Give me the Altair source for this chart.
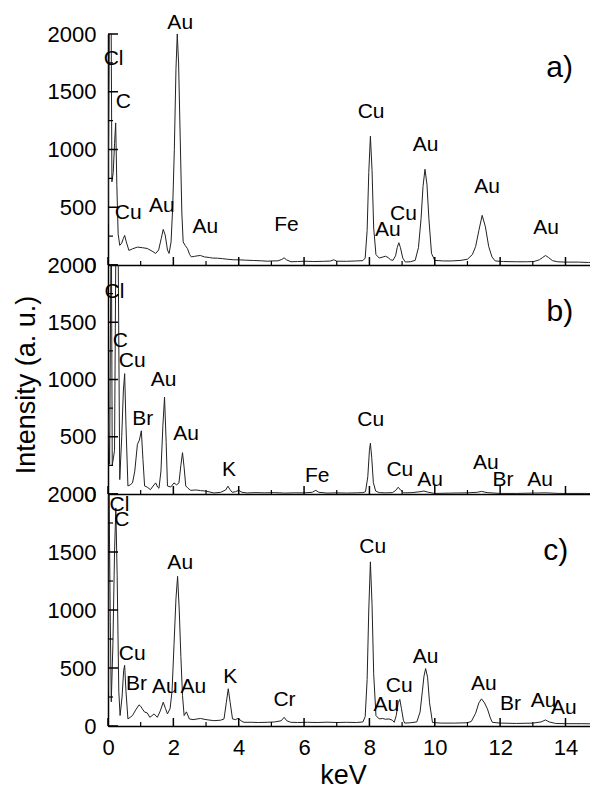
import altair as alt
import pandas as pd

FONT = "Liberation Sans"

# ---------------- spectra (keV, counts) ----------------
a_kev = [0.0, 0.05, 0.09, 0.12, 0.16, 0.2, 0.235, 0.27, 0.31, 0.36, 0.42, 0.47, 0.51, 0.56, 0.64,
         0.75, 0.9, 1.05, 1.2, 1.35, 1.46, 1.55, 1.63, 1.69, 1.75, 1.82, 1.87, 1.93, 1.98, 2.03,
         2.08, 2.12, 2.16, 2.21, 2.26, 2.3, 2.36, 2.43, 2.5, 2.55, 2.65, 2.75, 2.83, 2.95, 3.1,
         3.2, 3.35, 3.5, 3.65, 3.85, 4.0, 4.2, 4.46, 4.7, 4.87, 5.0, 5.2, 5.32, 5.39, 5.46, 5.6,
         5.8, 6.0, 6.3, 6.6, 6.8, 6.91, 7.0, 7.3, 7.6, 7.8, 7.87, 7.93, 7.98, 8.03, 8.08, 8.13,
         8.2, 8.3, 8.42, 8.49, 8.57, 8.65, 8.72, 8.8, 8.85, 8.9, 8.95, 9.02, 9.1, 9.25, 9.4, 9.5,
         9.58, 9.64, 9.7, 9.76, 9.82, 9.9, 10.0, 10.27, 10.5, 10.8, 11.0, 11.15, 11.25, 11.35,
         11.45, 11.55, 11.65, 11.75, 11.85, 12.1, 12.5, 12.8, 13.03, 13.2, 13.3, 13.39, 13.48,
         13.6, 13.75, 14.0, 14.4, 14.7, 15.0]
a_cnt = [350, 2500, 2500, 720, 800, 1050, 1230, 700, 270, 170, 190, 230, 256, 200, 126,
         140, 155, 150, 143, 120, 100, 130, 230, 308, 260, 130, 100, 200, 500, 1000,
         1700, 2000, 1750, 1100, 450, 200, 170, 143, 90, 70, 75, 80, 82, 70, 65,
         60, 59, 55, 50, 45, 45, 42, 39, 36, 33, 35, 36, 48, 62, 45, 28,
         30, 33, 30, 32, 34, 45, 33, 32, 35, 38, 60, 300, 800, 1115, 820, 320,
         90, 60, 70, 76, 65, 45, 40, 80, 150, 193, 150, 60, 26, 28, 40, 150,
         400, 680, 829, 700, 400, 100, 40, 35, 35, 40, 50, 90, 160, 300,
         430, 330, 160, 70, 35, 30, 28, 28, 30, 45, 65, 82, 65,
         38, 28, 25, 25, 22, 22]

b_kev = [0.0, 0.05, 0.1, 0.13, 0.2, 0.25, 0.3, 0.36, 0.42, 0.47, 0.51, 0.55, 0.61, 0.68, 0.75,
         0.82, 0.9, 0.96, 1.02, 1.07, 1.12, 1.2, 1.3, 1.38, 1.46, 1.52, 1.56, 1.62, 1.68, 1.73,
         1.78, 1.82, 1.92, 2.02, 2.1, 2.17, 2.23, 2.28, 2.33, 2.38, 2.45, 2.53, 2.7, 2.83, 3.0,
         3.24, 3.45, 3.6, 3.67, 3.73, 3.8, 3.9, 4.0, 4.1, 4.26, 4.5, 4.8, 5.1, 5.4, 5.7, 6.0,
         6.25, 6.36, 6.45, 6.7, 7.0, 7.3, 7.6, 7.8, 7.88, 7.95, 8.0, 8.03, 8.07, 8.12, 8.19,
         8.3, 8.5, 8.7, 8.8, 8.88, 8.95, 9.05, 9.3, 9.55, 9.67, 9.8, 10.0, 10.5, 11.0, 11.3,
         11.43, 11.6, 12.0, 12.5, 13.0, 13.4, 13.8, 14.2, 14.6, 15.0]
b_cnt = [700, 260, 2600, 250, 380, 2600, 2600, 126, 500, 900, 1051, 600, 70, 80, 97,
         200, 434, 470, 552, 300, 70, 60, 38, 70, 97, 60, 50, 200, 600, 846,
         450, 70, 61, 97, 80, 97, 250, 361, 230, 70, 50, 32, 35, 30, 25,
         9, 15, 35, 68, 40, 15, 20, 32, 15, 9, 12, 10, 12, 8, 10, 10,
         15, 32, 15, 8, 10, 8, 10, 12, 20, 150, 380, 443, 320, 100, 26,
         12, 10, 12, 30, 59, 35, 10, 12, 20, 26, 15, 5, 8, 10, 15,
         23, 12, 5, 5, 8, 10, 5, 5, 5, 3]

c_kev = [0.0, 0.03, 0.07, 0.1, 0.15, 0.2, 0.24, 0.28, 0.33, 0.37, 0.43, 0.48, 0.51, 0.55, 0.61,
         0.68, 0.75, 0.85, 0.95, 1.0, 1.05, 1.12, 1.2, 1.28, 1.35, 1.41, 1.51, 1.6, 1.69, 1.76,
         1.82, 1.9, 1.96, 2.02, 2.08, 2.13, 2.18, 2.23, 2.28, 2.33, 2.4, 2.49, 2.6, 2.83, 3.0,
         3.24, 3.45, 3.55, 3.62, 3.68, 3.74, 3.81, 3.9, 3.98, 4.1, 4.16, 4.4, 4.6, 4.87, 5.1,
         5.3, 5.39, 5.47, 5.59, 5.8, 6.1, 6.4, 6.7, 7.0, 7.3, 7.6, 7.8, 7.87, 7.93, 7.98, 8.03,
         8.08, 8.13, 8.2, 8.3, 8.4, 8.5, 8.6, 8.7, 8.76, 8.82, 8.88, 8.93, 8.98, 9.04, 9.08,
         9.25, 9.45, 9.55, 9.62, 9.67, 9.72, 9.78, 9.84, 9.93, 10.2, 10.6, 11.0, 11.12, 11.25,
         11.35, 11.43, 11.52, 11.61, 11.7, 11.76, 12.0, 12.5, 13.0, 13.25, 13.39, 13.5, 13.7,
         14.0, 14.5, 15.0]
c_cnt = [300, 2100, 900, 208, 700, 1500, 1880, 1300, 300, 90, 250, 480, 523, 300, 61,
         75, 90, 140, 182, 170, 148, 120, 113, 75, 90, 104, 75, 130, 205, 150,
         104, 150, 300, 700, 1100, 1290, 1000, 600, 263, 90, 122, 61, 55, 65, 55,
         46, 50, 61, 200, 321, 200, 61, 55, 65, 40, 32, 32, 30, 32, 35,
         45, 75, 45, 32, 30, 32, 30, 33, 30, 32, 30, 35, 80, 400, 1000, 1415,
         1050, 450, 90, 61, 65, 58, 61, 50, 32, 90, 200, 229, 150, 50, 25,
         28, 35, 120, 300, 430, 495, 420, 200, 30, 25, 25, 28, 40, 110,
         200, 234, 200, 148, 70, 32, 25, 22, 25, 35, 52, 35, 22,
         20, 20, 18]

# ---------------- peak labels ----------------
a_lbl = ["Cl", "C", "Au", "Cu", "Au", "Au", "Fe", "Cu", "Au", "Au", "Cu", "Au", "Au"]
a_lbl_kev = [0.17, 0.47, 2.21, 0.62, 1.65, 2.98, 5.46, 8.05, 9.72, 11.6, 9.04, 8.56, 13.41]
a_lbl_cnt = [1732, 1356, 2041, 401, 458, 276, 293, 1269, 988, 623, 392, 253, 271]

b_lbl = ["Cl", "C", "Cu", "Au", "Br", "Au", "K", "Fe", "Cu", "Cu", "Au", "Au", "Br", "Au"]
b_lbl_kev = [0.2, 0.38, 0.74, 1.7, 1.06, 2.39, 3.7, 6.4, 8.04, 8.93, 9.86, 11.56, 12.09, 13.22]
b_lbl_cnt = [1712, 1286, 1110, 940, 605, 473, 156, 103, 590, 156, 73, 214, 68, 68]

c_lbl = ["Cl", "C", "Au", "Cu", "Br", "Au", "Au", "K", "Cr", "Cu", "Au", "Cu", "Au", "Au",
         "Br", "Au", "Au"]
c_lbl_kev = [0.35, 0.42, 2.21, 0.74, 0.87, 1.74, 2.61, 3.74, 5.4, 8.1, 9.72, 8.91, 8.52, 11.5,
             12.32, 13.33, 13.95]
c_lbl_cnt = [1855, 1725, 1357, 567, 307, 286, 286, 373, 176, 1493, 547, 292, 128, 307,
             139, 162, 104]

tags = ["a)", "b)", "c)"]
tag_kev = [13.82, 13.83, 13.7]
tag_cnt = [1625, 1513, 1435]

# ---------------- ticks ----------------
x_major = [0, 2, 4, 6, 8, 10, 12, 14]
x_minor = [1, 3, 5, 7, 9, 11, 13]
y_major = [0, 500, 1000, 1500, 2000]
y_minor = [250, 750, 1250, 1750]

X_MAX = 14.75
W = 482
HEIGHTS = [231, 229, 232]

xscale = alt.Scale(domain=[0, X_MAX], nice=False, zero=False)
yscale = alt.Scale(domain=[0, 2000], nice=False)


def panel(i, kev, cnt, lbl, lk, lc):
    h = HEIGHTS[i]
    last = i == 2
    xaxis_kw = dict(values=x_major, ticks=False, labels=last, grid=False, labelFlush=False,
                    labelFontSize=22, labelPadding=11, labelFont=FONT, labelColor="black",
                    domainColor="black", domainWidth=1.5, format="d")
    if last:
        xaxis_kw.update(title="keV", titleFontSize=27, titleFont=FONT, titleFontWeight="normal",
                        titleX=235, titleY=57, titleBaseline="alphabetic", titleColor="black")
    else:
        xaxis_kw.update(title=None)
    yaxis_kw = dict(values=y_major, ticks=False, grid=False, labelFontSize=22, labelPadding=12,
                    labelFont=FONT, labelColor="black", domainColor="black", domainWidth=1.5,
                    format="d")
    if i == 1:
        yaxis_kw.update(title="Intensity (a. u.)", titleFontSize=27, titleFont=FONT,
                        titleFontWeight="normal", titleX=-74, titleY=119.5,
                        titleBaseline="alphabetic", titleAngle=270, titleColor="black")
    else:
        yaxis_kw.update(title=None)

    X = alt.X("kev:Q", scale=xscale, axis=alt.Axis(**xaxis_kw))
    Y = alt.Y("cnt:Q", scale=yscale, axis=alt.Axis(**yaxis_kw))

    spec = pd.DataFrame({"kev": kev, "cnt": cnt})
    line = alt.Chart(spec).mark_line(color="#222", strokeWidth=1, clip=True).encode(x=X, y=Y)
    lab = alt.Chart(pd.DataFrame({"t": lbl, "kev": lk, "cnt": lc})).mark_text(
        font=FONT, fontSize=21, baseline="alphabetic", align="center", color="black"
    ).encode(x=X, y=Y, text="t:N")
    tag = alt.Chart(pd.DataFrame({"t": [tags[i]], "kev": [tag_kev[i]], "cnt": [tag_cnt[i]]})).mark_text(
        font=FONT, fontSize=30, baseline="alphabetic", align="center", color="black"
    ).encode(x=X, y=Y, text="t:N")
    ymaj = alt.Chart(pd.DataFrame({"cnt": y_major})).mark_rule(color="black", strokeWidth=1.5).encode(
        y=Y, x=alt.value(0), x2=alt.value(10))
    ymin = alt.Chart(pd.DataFrame({"cnt": y_minor})).mark_rule(color="black", strokeWidth=1.2).encode(
        y=Y, x=alt.value(0), x2=alt.value(5))
    xmaj = alt.Chart(pd.DataFrame({"kev": x_major})).mark_rule(color="black", strokeWidth=1.5).encode(
        x=X, y=alt.value(h), y2=alt.value(h - 8))
    xmin = alt.Chart(pd.DataFrame({"kev": x_minor})).mark_rule(color="black", strokeWidth=1.2).encode(
        x=X, y=alt.value(h), y2=alt.value(h - 4))
    return alt.layer(line, ymaj, ymin, xmaj, xmin, lab, tag).properties(width=W, height=h)


pa = panel(0, a_kev, a_cnt, a_lbl, a_lbl_kev, a_lbl_cnt)
pb = panel(1, b_kev, b_cnt, b_lbl, b_lbl_kev, b_lbl_cnt)
pc = panel(2, c_kev, c_cnt, c_lbl, c_lbl_kev, c_lbl_cnt)

chart = alt.vconcat(pa, pb, pc, spacing=0, bounds="flush").configure_view(stroke=None).properties(
    padding={"left": 4, "top": 4, "right": 0, "bottom": 0}
)

chart.save("out.html", embed_options={"renderer": "svg", "actions": False})
